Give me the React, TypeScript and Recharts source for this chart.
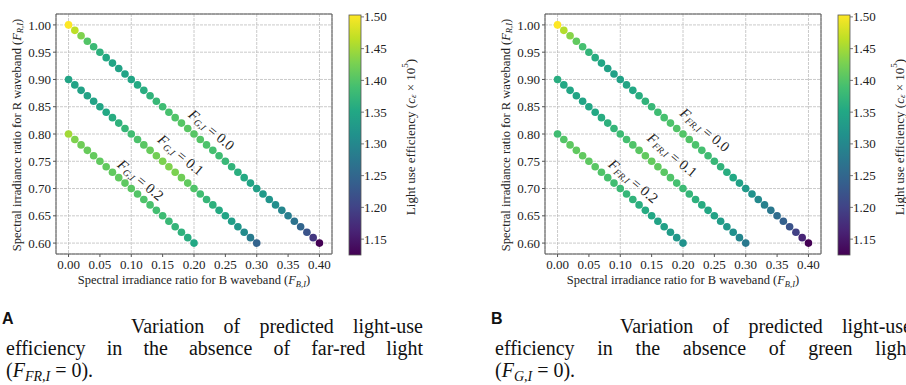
import React from 'react';
import {
  ScatterChart,
  Scatter,
  XAxis,
  YAxis,
  CartesianGrid,
  ReferenceArea,
  ReferenceDot,
} from 'recharts';

// Blue-waveband ratio (x) and red-waveband ratio (y) along each constant-F line
const bLong = [0.00, 0.01, 0.02, 0.03, 0.04, 0.05, 0.06, 0.07, 0.08, 0.09, 0.10, 0.11, 0.12, 0.13, 0.14, 0.15, 0.16, 0.17, 0.18, 0.19, 0.20, 0.21, 0.22, 0.23, 0.24, 0.25, 0.26, 0.27, 0.28, 0.29, 0.30, 0.31, 0.32, 0.33, 0.34, 0.35, 0.36, 0.37, 0.38, 0.39, 0.40];
const rLong = [1.00, 0.99, 0.98, 0.97, 0.96, 0.95, 0.94, 0.93, 0.92, 0.91, 0.90, 0.89, 0.88, 0.87, 0.86, 0.85, 0.84, 0.83, 0.82, 0.81, 0.80, 0.79, 0.78, 0.77, 0.76, 0.75, 0.74, 0.73, 0.72, 0.71, 0.70, 0.69, 0.68, 0.67, 0.66, 0.65, 0.64, 0.63, 0.62, 0.61, 0.60];
const bMid = [0.00, 0.01, 0.02, 0.03, 0.04, 0.05, 0.06, 0.07, 0.08, 0.09, 0.10, 0.11, 0.12, 0.13, 0.14, 0.15, 0.16, 0.17, 0.18, 0.19, 0.20, 0.21, 0.22, 0.23, 0.24, 0.25, 0.26, 0.27, 0.28, 0.29, 0.30];
const rMid = [0.90, 0.89, 0.88, 0.87, 0.86, 0.85, 0.84, 0.83, 0.82, 0.81, 0.80, 0.79, 0.78, 0.77, 0.76, 0.75, 0.74, 0.73, 0.72, 0.71, 0.70, 0.69, 0.68, 0.67, 0.66, 0.65, 0.64, 0.63, 0.62, 0.61, 0.60];
const bShort = [0.00, 0.01, 0.02, 0.03, 0.04, 0.05, 0.06, 0.07, 0.08, 0.09, 0.10, 0.11, 0.12, 0.13, 0.14, 0.15, 0.16, 0.17, 0.18, 0.19, 0.20];
const rShort = [0.80, 0.79, 0.78, 0.77, 0.76, 0.75, 0.74, 0.73, 0.72, 0.71, 0.70, 0.69, 0.68, 0.67, 0.66, 0.65, 0.64, 0.63, 0.62, 0.61, 0.60];

// Predicted light use efficiency (c_e x 10^5), far-red absent
const lueNoFrG00 = [1.503, 1.465, 1.43, 1.40, 1.38, 1.365, 1.352, 1.345, 1.342, 1.343, 1.347, 1.353, 1.36, 1.368, 1.376, 1.384, 1.392, 1.398, 1.402, 1.404, 1.403, 1.40, 1.396, 1.39, 1.384, 1.377, 1.37, 1.362, 1.354, 1.346, 1.338, 1.329, 1.32, 1.31, 1.298, 1.285, 1.268, 1.248, 1.222, 1.185, 1.125];
const lueNoFrG01 = [1.345, 1.343, 1.342, 1.342, 1.344, 1.347, 1.352, 1.358, 1.366, 1.375, 1.385, 1.395, 1.405, 1.414, 1.422, 1.428, 1.43, 1.428, 1.42, 1.41, 1.398, 1.386, 1.375, 1.365, 1.355, 1.345, 1.335, 1.322, 1.305, 1.28, 1.245];
const lueNoFrG02 = [1.45, 1.43, 1.42, 1.415, 1.412, 1.41, 1.41, 1.41, 1.41, 1.408, 1.405, 1.40, 1.397, 1.393, 1.388, 1.383, 1.378, 1.372, 1.366, 1.36, 1.352];

// Predicted light use efficiency, green absent
const lueNoGFr00 = [1.503, 1.46, 1.435, 1.41, 1.39, 1.372, 1.357, 1.347, 1.34, 1.338, 1.34, 1.345, 1.352, 1.36, 1.368, 1.376, 1.384, 1.391, 1.396, 1.399, 1.40, 1.399, 1.395, 1.39, 1.383, 1.376, 1.368, 1.36, 1.351, 1.34, 1.328, 1.316, 1.303, 1.29, 1.276, 1.26, 1.242, 1.222, 1.197, 1.165, 1.125];
const lueNoGFr01 = [1.36, 1.352, 1.348, 1.346, 1.346, 1.348, 1.352, 1.358, 1.365, 1.373, 1.382, 1.39, 1.398, 1.405, 1.41, 1.412, 1.41, 1.405, 1.398, 1.39, 1.382, 1.373, 1.365, 1.357, 1.35, 1.342, 1.334, 1.325, 1.313, 1.298, 1.278];
const lueNoGFr02 = [1.385, 1.40, 1.408, 1.41, 1.41, 1.408, 1.404, 1.398, 1.392, 1.386, 1.38, 1.374, 1.368, 1.362, 1.356, 1.35, 1.344, 1.338, 1.332, 1.325, 1.316];

const xTicks = [0, 0.05, 0.1, 0.15, 0.2, 0.25, 0.3, 0.35, 0.4];
const yTicks = [0.6, 0.65, 0.7, 0.75, 0.8, 0.85, 0.9, 0.95, 1.0];
const cbarTicks = [1.15, 1.2, 1.25, 1.3, 1.35, 1.4, 1.45, 1.5];
const lineLevels = ['0.0', '0.1', '0.2'];

const LUE_MIN = 1.125;
const LUE_MAX = 1.503;

const SERIF = '"Liberation Serif", "DejaVu Serif", serif';

const VIRIDIS = ['#440154', '#482475', '#414487', '#355f8d', '#2a788e', '#21918c', '#22a884', '#44bf70', '#7ad151', '#bddf26', '#fde725'];

const hexToRgb = (h: string) => [1, 3, 5].map((i) => parseInt(h.slice(i, i + 2), 16));

const viridis = (v: number) => {
  let t = (v - LUE_MIN) / (LUE_MAX - LUE_MIN);
  t = Math.max(0, Math.min(1, t));
  const pos = t * (VIRIDIS.length - 1);
  const i = Math.min(Math.floor(pos), VIRIDIS.length - 2);
  const f = pos - i;
  const a = hexToRgb(VIRIDIS[i]);
  const b = hexToRgb(VIRIDIS[i + 1]);
  const c = a.map((ch, k) => Math.round(ch + (b[k] - ch) * f));
  return `rgb(${c[0]},${c[1]},${c[2]})`;
};

const toRows = (b: number[], r: number[], lue: number[]) =>
  b.map((bv, i) => ({ b: bv, r: r[i], lue: lue[i] }));

const Dot = (props: any) => {
  const { cx, cy, payload } = props;
  if (cx == null || cy == null) return null;
  return <circle cx={cx} cy={cy} r={3.8} fill={viridis(payload.lue)} />;
};

const LineLabel = ({ cx, cy, sub, level }: { cx: number; cy: number; sub: string; level: string }) => (
  <text
    x={cx}
    y={cy}
    transform={`rotate(40 ${cx} ${cy})`}
    textAnchor="middle"
    dominantBaseline="middle"
    fontFamily={SERIF}
    fontSize={14.5}
    fill="#222"
  >
    <tspan fontStyle="italic">F</tspan>
    <tspan fontStyle="italic" fontSize={9.5} dy={3}>{sub}</tspan>
    <tspan dy={-3}>{' = '}{level}</tspan>
  </text>
);

const Colorbar = () => {
  const top = 15;
  const bottom = 255;
  const toY = (v: number) => top + ((LUE_MAX - v) / (LUE_MAX - LUE_MIN)) * (bottom - top);
  return (
    <svg width={110} height={290} style={{ position: 'absolute', left: 340, top: 0 }}>
      <defs>
        <linearGradient id="viridisGrad" x1="0" y1="1" x2="0" y2="0">
          {VIRIDIS.map((c, i) => (
            <stop key={c} offset={`${(i / (VIRIDIS.length - 1)) * 100}%`} stopColor={c} />
          ))}
        </linearGradient>
      </defs>
      <rect x={9} y={top} width={12} height={bottom - top} fill="url(#viridisGrad)" stroke="#555" strokeWidth={0.8} />
      {cbarTicks.map((t) => (
        <g key={t}>
          <line x1={21} x2={24} y1={toY(t)} y2={toY(t)} stroke="#555" strokeWidth={0.8} />
          <text x={24} y={toY(t)} dominantBaseline="central" fontFamily={SERIF} fontSize={13} fill="#222">
            {t.toFixed(2)}
          </text>
        </g>
      ))}
      <text
        x={70}
        y={137}
        transform="rotate(-90 70 137)"
        textAnchor="middle"
        dominantBaseline="central"
        fontFamily={SERIF}
        fontSize={13}
        fill="#222"
      >
        Light use efficiency (
        <tspan fontStyle="italic">c</tspan>
        <tspan fontStyle="italic" fontSize={9} dy={3}>ε</tspan>
        <tspan dy={-3}>{' × 10'}</tspan>
        <tspan fontSize={9} dy={-5}>5</tspan>
        <tspan dy={5}>)</tspan>
      </text>
    </svg>
  );
};

interface PanelProps {
  left: number;
  letter: string;
  sub: string;
  lue: number[][];
  labelAt: { b: number; r: number }[];
  line1: string;
  line2: string;
  absentSub: string;
}

const Panel: React.FC<PanelProps> = ({ left, letter, sub, lue, labelAt, line1, line2, absentSub }) => {
  const series = [
    toRows(bLong, rLong, lue[0]),
    toRows(bMid, rMid, lue[1]),
    toRows(bShort, rShort, lue[2]),
  ];
  return (
    <div style={{ position: 'absolute', left, top: 0, width: 450, height: 385 }}>
      <ScatterChart width={450} height={290} margin={{ top: 14, right: 118, bottom: 6, left: 6 }}>
        <CartesianGrid stroke="#bcbcbc" strokeDasharray="3 1" strokeWidth={0.8} />
        <XAxis
          type="number"
          dataKey="b"
          domain={[-0.02, 0.42]}
          ticks={xTicks}
          allowDataOverflow
          tickFormatter={(v: number) => v.toFixed(2)}
          axisLine={false}
          tickLine={{ stroke: '#555' }}
          tickSize={3}
          tickMargin={3}
          height={30}
          tick={{ fontFamily: SERIF, fontSize: 13, fill: '#222' }}
          label={{
            content: (p: any) => {
              const vb = p.viewBox;
              return (
                <text x={vb.x + vb.width / 2} y={vb.y + 30} textAnchor="middle" fontFamily={SERIF} fontSize={12.5} fill="#222">
                  Spectral irradiance ratio for B waveband (
                  <tspan fontStyle="italic">F</tspan>
                  <tspan fontStyle="italic" fontSize={8.5} dy={2.5}>B,I</tspan>
                  <tspan dy={-2.5}>)</tspan>
                </text>
              );
            },
          }}
        />
        <YAxis
          type="number"
          dataKey="r"
          domain={[0.58, 1.02]}
          ticks={yTicks}
          allowDataOverflow
          tickFormatter={(v: number) => v.toFixed(2)}
          axisLine={false}
          tickLine={{ stroke: '#555' }}
          tickSize={3}
          tickMargin={2}
          width={50}
          tick={{ fontFamily: SERIF, fontSize: 13, fill: '#222' }}
          label={{
            content: (p: any) => {
              const vb = p.viewBox;
              const cx = 17;
              const cy = vb.y + vb.height / 2 + 1;
              return (
                <text
                  x={cx}
                  y={cy}
                  transform={`rotate(-90 ${cx} ${cy})`}
                  textAnchor="middle"
                  dominantBaseline="central"
                  fontFamily={SERIF}
                  fontSize={12.5}
                  fill="#222"
                >
                  Spectral irradiance ratio for R waveband (
                  <tspan fontStyle="italic">F</tspan>
                  <tspan fontStyle="italic" fontSize={8.5} dy={2.5}>R,I</tspan>
                  <tspan dy={-2.5}>)</tspan>
                </text>
              );
            },
          }}
        />
        {series.map((rows, i) => (
          <Scatter key={i} data={rows} shape={Dot} isAnimationActive={false} />
        ))}
        {labelAt.map((pos, i) => (
          <ReferenceDot
            key={i}
            x={pos.b}
            y={pos.r}
            r={0}
            ifOverflow="visible"
            shape={(p: any) => <LineLabel cx={p.cx} cy={p.cy} sub={sub} level={lineLevels[i]} />}
          />
        ))}
        <ReferenceArea x1={-0.02} x2={0.42} y1={0.58} y2={1.02} fill="none" stroke="#555" strokeWidth={1} ifOverflow="visible" />
      </ScatterChart>
      <Colorbar />
      <div
        style={{
          position: 'absolute',
          left: 2,
          top: 311,
          fontFamily: '"Liberation Sans", Arial, sans-serif',
          fontWeight: 700,
          fontSize: 16,
          lineHeight: '16px',
          color: '#111',
        }}
      >
        {letter}
      </div>
      <div style={{ position: 'absolute', left: 131, top: 316, width: 292, fontFamily: SERIF, fontSize: 20, lineHeight: '20px', textAlign: 'justify', textAlignLast: 'justify', color: '#111' }}>
        {line1}
      </div>
      <div style={{ position: 'absolute', left: 6, top: 338, width: 417, fontFamily: SERIF, fontSize: 20, lineHeight: '20px', textAlign: 'justify', textAlignLast: 'justify', color: '#111' }}>
        {line2}
      </div>
      <div style={{ position: 'absolute', left: 6, top: 360, fontFamily: SERIF, fontSize: 20, lineHeight: '20px', color: '#111', whiteSpace: 'nowrap' }}>
        (<i>F</i>
        <sub style={{ fontSize: 14, fontStyle: 'italic', verticalAlign: '-4px' }}>{absentSub}</sub>
        {' = 0).'}
      </div>
    </div>
  );
};

export default function App() {
  return (
    <div style={{ position: 'absolute', left: 0, top: 0, width: 906, height: 385, overflow: 'hidden', background: '#fff' }}>
      <Panel
        left={0}
        letter="A"
        sub="G,I"
        lue={[lueNoFrG00, lueNoFrG01, lueNoFrG02]}
        labelAt={[
          { b: 0.226, r: 0.805 },
          { b: 0.177, r: 0.759 },
          { b: 0.113, r: 0.713 },
        ]}
        line1="Variation of predicted light-use"
        line2="efficiency in the absence of far-red light"
        absentSub="FR,I"
      />
      <Panel
        left={489}
        letter="B"
        sub="FR,I"
        lue={[lueNoGFr00, lueNoGFr01, lueNoGFr02]}
        labelAt={[
          { b: 0.233, r: 0.805 },
          { b: 0.181, r: 0.759 },
          { b: 0.119, r: 0.711 },
        ]}
        line1="Variation of predicted light-use"
        line2="efficiency in the absence of green light"
        absentSub="G,I"
      />
    </div>
  );
}
